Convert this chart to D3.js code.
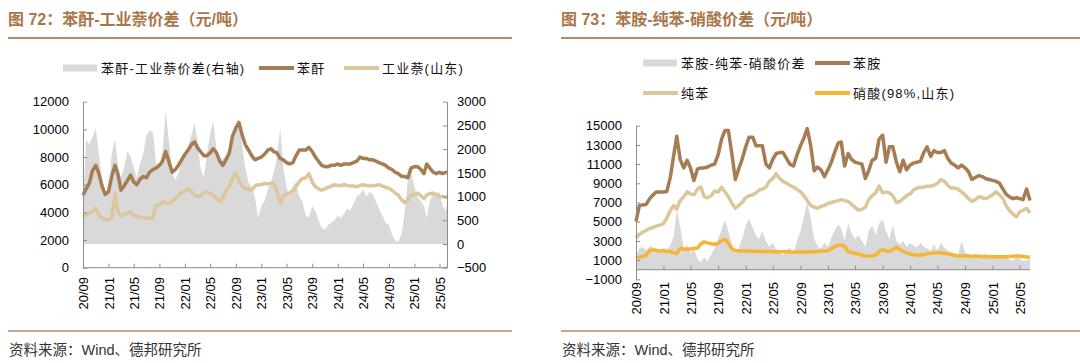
<!DOCTYPE html>
<meta charset="UTF-8">
<script src="https://cdn.jsdelivr.net/npm/d3@7"></script>
<style>
 body { margin:0; background:#fff; }
 svg text { font-family:"Liberation Sans", Arial, "Noto Sans CJK SC", sans-serif; fill:#111; }
 .title { font-size:16px; font-weight:bold; fill:#a9764a; }
 .legend text { font-size:13px; letter-spacing:1.2px; }
 .source { font-size:14.5px; fill:#333; }
 .axis text { font-size:13px; fill:#000; }
 .axis path, .axis line { stroke:#8c8c8c; }
</style>
<svg id="chart" width="1080" height="363"></svg>
<script>
 // semi-monthly sampling grid (1st and 16th of each month), Sep 2020 - Jun 2025
 var start = new Date(2020, 8, 1);
 var dates = d3.range(116).map(function (i) {
     return d3.timeDay.offset(d3.timeMonth.offset(start, Math.floor(i / 2)), (i % 2) * 15);
 });

 // ---- fig 72 : 苯酐 / 工业萘 (left axis), spread (right axis)
 var anhydride = [5250,5700,6100,7000,7400,6800,5900,5300,5500,6600,
     7400,6700,5600,5900,6300,6700,6200,6000,6400,6600,
     6500,6900,7100,7200,7400,7700,8400,7700,6900,7100,
     7400,7800,8200,8500,8900,9100,8700,8400,8100,8100,
     8300,8600,8300,7700,7400,7800,8300,9500,10100,10500,
     9600,8900,8500,8100,7800,7900,8000,8200,8500,8600,
     8400,8300,7900,7800,7600,7500,7600,8100,8500,8500,
     8500,8700,8400,8000,7700,7400,7300,7300,7400,7400,
     7500,7400,7500,7500,7500,7600,7700,8000,7900,7900,
     7800,7800,7700,7600,7500,7400,7200,7100,6900,6800,
     6600,6600,6500,7200,7300,7300,7100,6800,7500,7200,
     6900,6800,6900,6800,6900,6850];
 var naphthalene = [3700,3800,3950,4100,4300,3800,3600,3500,3450,3650,
     5300,4000,3700,3850,3950,4050,3800,3700,3650,3600,
     3600,3580,3600,4500,4550,4750,4700,4650,4800,5000,
     5200,5450,5550,5700,5500,5250,5150,5200,5400,5500,
     5350,5250,5000,4800,5100,5600,5900,6400,6800,6300,
     5900,5700,5700,5600,5900,6000,6000,6100,6050,6100,
     6100,5500,4650,5200,5300,5400,5600,5900,6200,6450,
     6500,6800,6200,5850,5700,5600,5700,5800,5900,6000,
     5950,5950,6000,5950,5900,5900,5850,5950,6000,5950,
     5900,5950,5950,6000,5900,5800,5750,5600,5400,5250,
     4900,4700,4900,5250,5300,5400,5200,5000,5250,5350,
     5400,5300,5150,5150,5100,5100];
 var spreadL = [800,2200,2100,2250,2450,1900,1300,1100,1050,1900,
     2200,1600,1400,1600,1950,1850,1600,1400,1700,1900,
     2300,2400,2350,1700,1650,1950,2800,2200,1500,1350,
     1500,1700,1900,2050,2300,2550,2200,1600,1400,1900,
     2300,2580,2000,1750,1800,1850,1950,2200,2450,2500,
     2100,1600,1300,1200,1000,550,800,900,1150,1300,
     1500,1800,2450,1600,1200,1000,1200,1300,1000,900,
     600,550,800,700,500,350,300,400,450,500,
     600,550,650,750,700,850,1000,1050,1150,1000,
     1100,1050,900,750,600,450,400,200,80,50,
     200,700,1350,1500,1200,1000,900,800,550,900,
     1100,1000,1100,800,700,850];
 var leftTicksL = [0,2000,4000,6000,8000,10000,12000];
 var leftTicksR = [-500,0,500,1000,1500,2000,2500,3000];

 // ---- fig 73 : 苯胺 / 纯苯 / 硝酸 and spread, single axis
 var aniline = [5000,6700,6750,6800,7400,7800,8100,8100,8100,8150,
     9700,12000,13900,11500,10600,11400,10600,9300,10500,10600,
     10600,10700,10900,11000,12000,13600,14500,14500,12000,9400,
     10500,11500,12800,13800,13800,12900,12900,12900,11000,10600,
     11500,12100,12200,12200,11600,11000,10800,11900,12900,13700,
     14700,13000,10300,10700,10400,9700,10400,11200,12300,13200,
     13300,10800,12100,11500,11200,11100,11000,9500,10300,11400,
     11600,13600,14000,11200,12800,12800,11200,10200,11400,10400,
     10900,11100,11200,11300,12200,12800,11800,12400,12200,12200,
     12400,11600,11100,10900,10600,10900,10600,10200,9400,9600,
     9800,9700,9500,9400,9300,9200,9000,8400,7900,7600,
     7400,7500,7400,7300,8400,7200];
 var benzene = [3300,3700,3900,4100,4300,4400,4550,4650,4800,5400,
     6200,6700,6300,7200,7600,8100,7900,7800,8400,8600,
     7600,7500,7700,8200,8100,8600,8100,7600,6900,6400,
     6700,7000,7500,7700,7800,8000,8300,8400,8600,9200,
     9500,10000,9500,9200,9000,8800,8600,8400,8100,7700,
     7200,6700,6500,6400,6600,6700,6900,7000,7100,7200,
     7300,7200,7100,6800,6500,6200,6300,6500,7300,7700,
     8000,8700,8000,8100,8000,7700,7000,7100,7400,7700,
     7900,8300,8500,8600,8600,8700,8700,8800,9000,9400,
     9200,8800,8500,8500,8400,8100,7800,7400,7100,7300,
     7600,7500,7400,7600,7800,8100,7800,7400,6700,6200,
     5800,5500,6000,6200,6400,5900];
 var nitric = [1200,1300,1400,1500,2000,2050,2000,1980,1950,1900,
     1880,1750,1700,2200,2150,2100,2150,2200,2250,2700,
     2900,2800,2700,2650,2750,3000,3150,2750,2200,1980,
     1970,1960,1950,1940,1930,1920,1910,1900,1900,1890,
     1880,1870,1870,1860,1860,1850,1850,1840,1840,1850,
     1860,1870,1880,1900,1920,1950,1980,2200,2400,2550,
     2550,2450,1900,1800,1720,1650,1500,1420,1420,1450,
     1520,1900,2100,1980,1900,2100,2350,2100,1900,1770,
     1650,1550,1530,1520,1550,1650,1700,1750,1770,1760,
     1720,1650,1580,1500,1440,1420,1420,1420,1410,1400,
     1390,1380,1370,1350,1350,1350,1350,1350,1360,1370,
     1400,1420,1420,1380,1330,1290];
 var spreadR = [1500,2200,2400,2000,2500,2300,2200,2000,2300,2100,
     2600,3500,6300,4500,2200,2600,1700,2300,1100,800,
     1300,900,1600,2200,3200,4200,5200,4000,2600,1600,
     2200,3200,4600,5300,4400,3500,3200,4000,3000,2400,
     2800,2100,1800,1500,2000,2300,1600,3000,4000,5500,
     7000,5400,3200,2500,2200,2800,2400,3300,4200,4700,
     4300,3000,4800,3800,3200,3600,3000,2400,4000,4600,
     3600,4800,5200,4000,3200,4600,3000,2600,3000,2400,
     2800,2500,2300,2800,2400,2200,2000,2600,2000,2800,
     2300,2000,1800,1700,1500,3000,1800,1600,1500,1700,
     1400,1500,1600,1300,1500,1400,1200,1500,1300,1100,
     900,1400,1200,900,1000,1100];
 var rightTicks = [-1000,1000,3000,5000,7000,9000,11000,13000,15000];

 var C = {spread:"#d9d9d9", brown:"#a67c52", tan:"#dcc69c", yellow:"#f5b535", rule:"#b08a68"};
 var fmt = d3.format("d");

 var svg = d3.select("#chart");

 // headers, rules and footers of both panels
 function frame(x0, x1, title) {
     svg.append("text").attr("class","title").attr("x",x0).attr("y",25).text(title);
     svg.append("line").attr("x1",x0).attr("x2",x1).attr("y1",38).attr("y2",38)
	.attr("stroke",C.rule).attr("stroke-width",2);
     svg.append("line").attr("x1",x0).attr("x2",x1).attr("y1",331).attr("y2",331)
	.attr("stroke",C.rule).attr("stroke-width",1.5);
     svg.append("text").attr("class","source").attr("x",x0+1).attr("y",355).text("资料来源：Wind、德邦研究所");
 }
 frame(8, 512, "图 72：苯酐-工业萘价差（元/吨）");
 frame(561, 1080, "图 73：苯胺-纯苯-硝酸价差（元/吨）");

 function legendItem(g, x, y, kind, color, label) {
     if (kind == "area")
	 g.append("rect").attr("x",x).attr("y",y-3.5).attr("width",34).attr("height",7).attr("fill",color);
     else
	 g.append("line").attr("x1",x).attr("x2",x+35).attr("y1",y).attr("y2",y)
	  .attr("stroke",color).attr("stroke-width",4);
     g.append("text").attr("x",x+38).attr("y",y).attr("dy","0.35em").text(label);
 }

 function xLabels(g, x, axisY, labelTop, x0, x1) {
     var ax = g.append("g").attr("class","axis").attr("transform","translate(0,"+axisY+")")
	       .call(d3.axisBottom(x).ticks(d3.timeMonth.every(4)).tickFormat(d3.timeFormat("%y/%m"))
		       .tickSize(-4).tickSizeOuter(0));
     ax.select(".domain").attr("d","M"+x0+",0H"+x1);
     ax.selectAll("text")
       .attr("transform","rotate(-90)")
       .attr("x", -(labelTop - axisY)).attr("y",0).attr("dy","0.35em")
       .style("text-anchor","end");
 }

 // ================= fig 72
 (function () {
     var g = svg.append("g");
     var ax0 = 83, ax1 = 447;
     var x = d3.scaleTime().domain([start, new Date(2025,4,1)]).range([83,439.5]);
     var yL = d3.scaleLinear().domain([0,12000]).range([267.7,101.7]);
     var yR = d3.scaleLinear().domain([-500,3000]).range([267.7,101.7]);
     var px = function (d,i){return Math.min(x(dates[i]),ax1);};

     g.append("path").datum(spreadL).attr("fill",C.spread)
      .attr("d", d3.area().x(px).y0(yR(0)).y1(function (d){return yR(d);}));

     var line = d3.line().x(px).y(function (d){return yL(d);});
     g.append("path").datum(naphthalene).attr("fill","none").attr("stroke",C.tan)
      .attr("stroke-width",3.5).attr("stroke-linejoin","round").attr("d",line);
     g.append("path").datum(anhydride).attr("fill","none").attr("stroke",C.brown)
      .attr("stroke-width",3.5).attr("stroke-linejoin","round").attr("d",line);

     g.append("g").attr("class","axis").attr("transform","translate("+ax0+",0)")
      .call(d3.axisLeft(yL).tickValues(leftTicksL).tickFormat(fmt).tickSize(-4).tickSizeOuter(0).tickPadding(14));
     g.append("g").attr("class","axis").attr("transform","translate("+ax1+",0)")
      .call(d3.axisRight(yR).tickValues(leftTicksR).tickFormat(fmt).tickSize(-4).tickSizeOuter(0).tickPadding(10));
     xLabels(g, x, 267.7, 277, ax0, ax1);

     var lg = g.append("g").attr("class","legend");
     legendItem(lg, 63, 68, "area", C.spread, "苯酐-工业萘价差(右轴)");
     legendItem(lg, 259, 68, "line", C.brown, "苯酐");
     legendItem(lg, 344, 68, "line", C.tan, "工业萘(山东)");
 })();

 // ================= fig 73
 (function () {
     var g = svg.append("g");
     var x = d3.scaleTime().domain([start, new Date(2025,5,16)]).range([636,1030]);
     var y = d3.scaleLinear().domain([-1000,15000]).range([279.3,125.7]);

     g.append("path").datum(spreadR).attr("fill",C.spread)
      .attr("d", d3.area().x(function (d,i){return x(dates[i]);}).y0(y(0)).y1(function (d){return y(d);}));

     var line = d3.line().x(function (d,i){return x(dates[i]);}).y(function (d){return y(d);});
     [[benzene,C.tan],[aniline,C.brown],[nitric,C.yellow]].forEach(function (s) {
	 g.append("path").datum(s[0]).attr("fill","none").attr("stroke",s[1])
	  .attr("stroke-width",3.5).attr("stroke-linejoin","round").attr("d",line);
     });

     g.append("g").attr("class","axis").attr("transform","translate(636,0)")
      .call(d3.axisLeft(y).tickValues(rightTicks).tickFormat(fmt).tickSize(-4).tickSizeOuter(0).tickPadding(14));
     xLabels(g, x, y(0), 282, 636, 1030);

     var lg = g.append("g").attr("class","legend");
     legendItem(lg, 643, 63, "area", C.spread, "苯胺-纯苯-硝酸价差");
     legendItem(lg, 815, 63, "line", C.brown, "苯胺");
     legendItem(lg, 643, 93, "line", C.tan, "纯苯");
     legendItem(lg, 815, 93, "line", C.yellow, "硝酸(98%,山东)");
 })();
</script>
